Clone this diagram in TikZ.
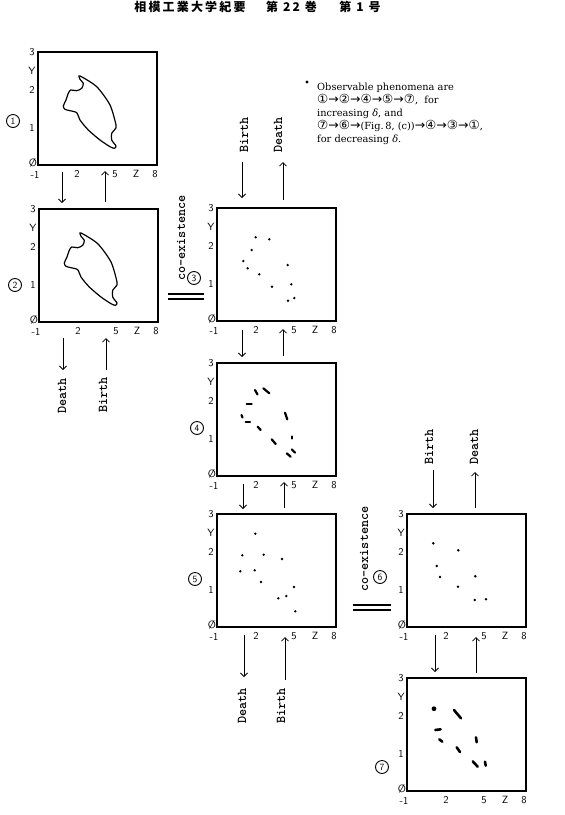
\documentclass[tikz,border=0pt]{standalone}
\usepackage{fontspec}
\usetikzlibrary{arrows.meta}
\newfontfamily\cjk[LetterSpace=18]{Noto Sans CJK JP}
\newfontfamily\noteserif{DejaVu Serif}
\newfontfamily\notesym{DejaVu Sans}
\newcommand\cn[1]{{\notesym\fontsize{12.5}{13}\selectfont #1}}
\newcommand\panelat[3]{\begin{scope}[shift={(#2,#3)}]
 \node[panel] (#1) at (0,0) {};
 \node[tick] (#1-t3) at (-6,0) {3};
 \node[tick] (#1-tY) at (-6,19) {Y};
 \node[tick] (#1-t2) at (-6,38) {2};
 \node[tick] (#1-t1) at (-6,76) {1};
 \node[tick] (#1-t0) at (-5,110.5) {Ø};
 \node[tick] (#1-xm) at (-3,123) {-1};
 \node[tick] (#1-x2) at (39,122) {2};
 \node[tick] (#1-x5) at (77,122) {5};
 \node[tick] (#1-xZ) at (98,122) {Z};
 \node[tick] (#1-x8) at (117,122) {8};
\end{scope}}
\begin{document}
\begin{tikzpicture}[x=1pt,y=-1pt,
  panel/.style={draw, line width=1.1pt, minimum width=119pt, minimum height=113pt, inner sep=0pt, outer sep=0pt, anchor=north west},
  tick/.style={font=\sffamily\fontsize{10.5}{10.5}\selectfont, inner sep=0pt},
  cnum/.style={circle, draw, line width=0.9pt, minimum size=13pt, inner sep=0pt, font=\sffamily\fontsize{9.5}{10}\selectfont},
  lbl/.style={rotate=90, inner sep=0pt, font=\ttfamily\bfseries\fontsize{13.5}{14}\selectfont},
  arr/.style={line width=0.8pt, -{Straight Barb[length=3.5pt,width=7pt]}},
  note/.style={anchor=base west, inner sep=0pt, font=\noteserif\fontsize{9.8}{13}\selectfont},
  blob/.style={line width=2.2pt, line cap=round},
  outline/.style={line width=1.2pt}]

\fill[white] (0,0) rectangle (565,815);
\useasboundingbox (0,0) rectangle (565,815);

% header
\node[font=\cjk\bfseries\fontsize{12}{12}\selectfont, inner sep=0pt] (h1) at (190,7) {相模工業大学紀要};
\node[font=\cjk\bfseries\fontsize{12}{12}\selectfont, inner sep=0pt] (h2) at (291.5,7) {第 22 巻};
\node[font=\cjk\bfseries\fontsize{12}{12}\selectfont, inner sep=0pt] (h3) at (360,7) {第 1 号};

% panels
\panelat{p1}{38}{52}
\panelat{p2}{39}{209}
\panelat{p3}{217}{208}
\panelat{p4}{217}{363}
\panelat{p5}{217}{514}
\panelat{p6}{407}{514}
\panelat{p7}{407}{678}

% circled numbers
\node[cnum] (c1) at (13,121) {1};
\node[cnum] (c2) at (15,285) {2};
\node[cnum] (c3) at (194,278) {3};
\node[cnum] (c4) at (197,428) {4};
\node[cnum] (c5) at (195,579) {5};
\node[cnum] (c6) at (380,577) {6};
\node[cnum] (c7) at (382,767) {7};

% outlines in panels 1 and 2
\foreach \dx/\dy in {0/0, 1/157}{
\begin{scope}[shift={(\dx,\dy)}]
\draw[outline] plot[smooth cycle, tension=0.45] coordinates {
 (80,76) (96.7,86.7) (110,105) (116,125) (115,129.3) (111.7,133.3) (111.7,140)
 (116,146) (114.3,148.3) (110,146.7) (100,140) (88.3,130) (80,120) (76.7,112.7)
 (70,110.7) (65,109.3) (63.3,106) (66,100) (68.3,93.3) (70.7,90) (76.7,90.7)
 (81.7,88.3) (83.3,83.3) (80,79.3)};
\end{scope}}

% panel 3 dots
\foreach \p in {(255.7,237.3),(269.3,239.3),(251.7,250),(243.3,261),(247.7,268.3),(259.3,274.3),(287.7,265),(272,286.7),(291.3,284.3),(288,300.7),(294.3,298)}
 \fill \p circle[radius=1.3pt];
% panel 4 blobs
\foreach \a/\b in {{(255,390)}/{(257.5,394.5)},{(263.3,388.3)}/{(269.3,393.3)},{(246.7,404)}/{(251.7,404)},{(241.5,415)}/{(242.5,417.5)},{(245.7,421.7)}/{(250,421.7)},{(257.7,426.7)}/{(260.7,430)},{(285,412.7)}/{(287.3,419.3)},{(271.7,439.3)}/{(275.7,444)},{(291.7,436.5)}/{(291.7,438.5)},{(291.7,449.3)}/{(295,452.7)},{(286.7,453.3)}/{(290.7,456.7)}}
 \draw[blob] \a -- \b;
% panel 5 dots
\foreach \p in {(255.3,533.7),(242.3,555.3),(263.7,554.7),(282,559),(240.3,571.3),(254.7,570.3),(261,582),(294,587),(278.3,598.3),(286.3,596),(295.3,611.3)}
 \fill \p circle[radius=1.3pt];
% panel 6 dots
\foreach \p in {(433.3,543.3),(458.3,550.3),(436.7,566),(440,577),(458,586.7),(475.3,576.3),(474.7,600),(486,599.3)}
 \fill \p circle[radius=1.4pt];
% panel 7 blobs
\fill (434,708.7) circle[radius=2.4pt];
\foreach \a/\b in {{(454,710)}/{(461,718.3)},{(435.3,730)}/{(440.7,729.3)},{(439.3,739.3)}/{(442.3,741.7)},{(476,737.3)}/{(476.7,742.3)},{(456.7,747.3)}/{(460,752)},{(472.7,761.3)}/{(477.7,766.7)},{(485,761.7)}/{(485.7,765.7)}}
 \draw[blob, line width=2.6pt] \a -- \b;

% labels Birth / Death
\node[lbl] (bth3) at (244,135) {Birth};
\node[lbl] (dth3) at (278,135) {Death};
\node[lbl] (dth2) at (62,396) {Death};
\node[lbl] (bth2) at (103,395) {Birth};
\node[lbl] (dth5) at (242,706) {Death};
\node[lbl] (bth5) at (281,706) {Birth};
\node[lbl] (bth6) at (429,447) {Birth};
\node[lbl] (dth6) at (474,447) {Death};
\node[lbl] (coex1) at (181,238) {co-existence};
\node[lbl] (coex2) at (364,549) {co-existence};

% arrows
\coordinate (a1) at (62,172);  \coordinate (a1e) at (62,203);
\coordinate (a2) at (105,202); \coordinate (a2e) at (105,171);
\draw[arr] (a1) -- (a1e); \draw[arr] (a2) -- (a2e);
\coordinate (b1) at (63,338);  \coordinate (b1e) at (63,370);
\coordinate (b2) at (106,370); \coordinate (b2e) at (106,338);
\draw[arr] (b1) -- (b1e); \draw[arr] (b2) -- (b2e);
\coordinate (c3a) at (242,162); \coordinate (c3ae) at (242,198);
\coordinate (c3b) at (283,200); \coordinate (c3be) at (283,162);
\draw[arr] (c3a) -- (c3ae); \draw[arr] (c3b) -- (c3be);
\coordinate (e1) at (242,330); \coordinate (e1e) at (242,357);
\coordinate (e2) at (283,356); \coordinate (e2e) at (283,329);
\draw[arr] (e1) -- (e1e); \draw[arr] (e2) -- (e2e);
\coordinate (f1) at (243,484); \coordinate (f1e) at (243,509);
\coordinate (f2) at (284,508); \coordinate (f2e) at (284,482);
\draw[arr] (f1) -- (f1e); \draw[arr] (f2) -- (f2e);
\coordinate (g1) at (244,635); \coordinate (g1e) at (244,677);
\coordinate (g2) at (285,680); \coordinate (g2e) at (285,637);
\draw[arr] (g1) -- (g1e); \draw[arr] (g2) -- (g2e);
\coordinate (k1) at (433,470); \coordinate (k1e) at (433,508);
\coordinate (k2) at (475,508); \coordinate (k2e) at (475,472);
\draw[arr] (k1) -- (k1e); \draw[arr] (k2) -- (k2e);
\coordinate (m1) at (435,635); \coordinate (m1e) at (435,672);
\coordinate (m2) at (476,673); \coordinate (m2e) at (476,637);
\draw[arr] (m1) -- (m1e); \draw[arr] (m2) -- (m2e);

% double lines
\draw[line width=1.2pt] (168,294) -- (204,294) (168,299) -- (204,299);
\draw[line width=1.2pt] (353,605) -- (391,605) (353,610) -- (391,610);

% note
\fill (307,82) circle[radius=1.6pt];
\node[note] (n1) at (317,90) {Observable phenomena are};
\node[note] (n2) at (317,103) {\cn{①→②→④→⑤→⑦},\ \ for};
\node[note] (n3) at (317,116) {increasing \textit{δ}, and};
\node[note] (n4) at (317,129) {\cn{⑦→⑥→}(Fig.\,8, (c))\cn{→④→③→①},};
\node[note] (n5) at (317,142) {for decreasing \textit{δ}.};
\end{tikzpicture}
\end{document}
